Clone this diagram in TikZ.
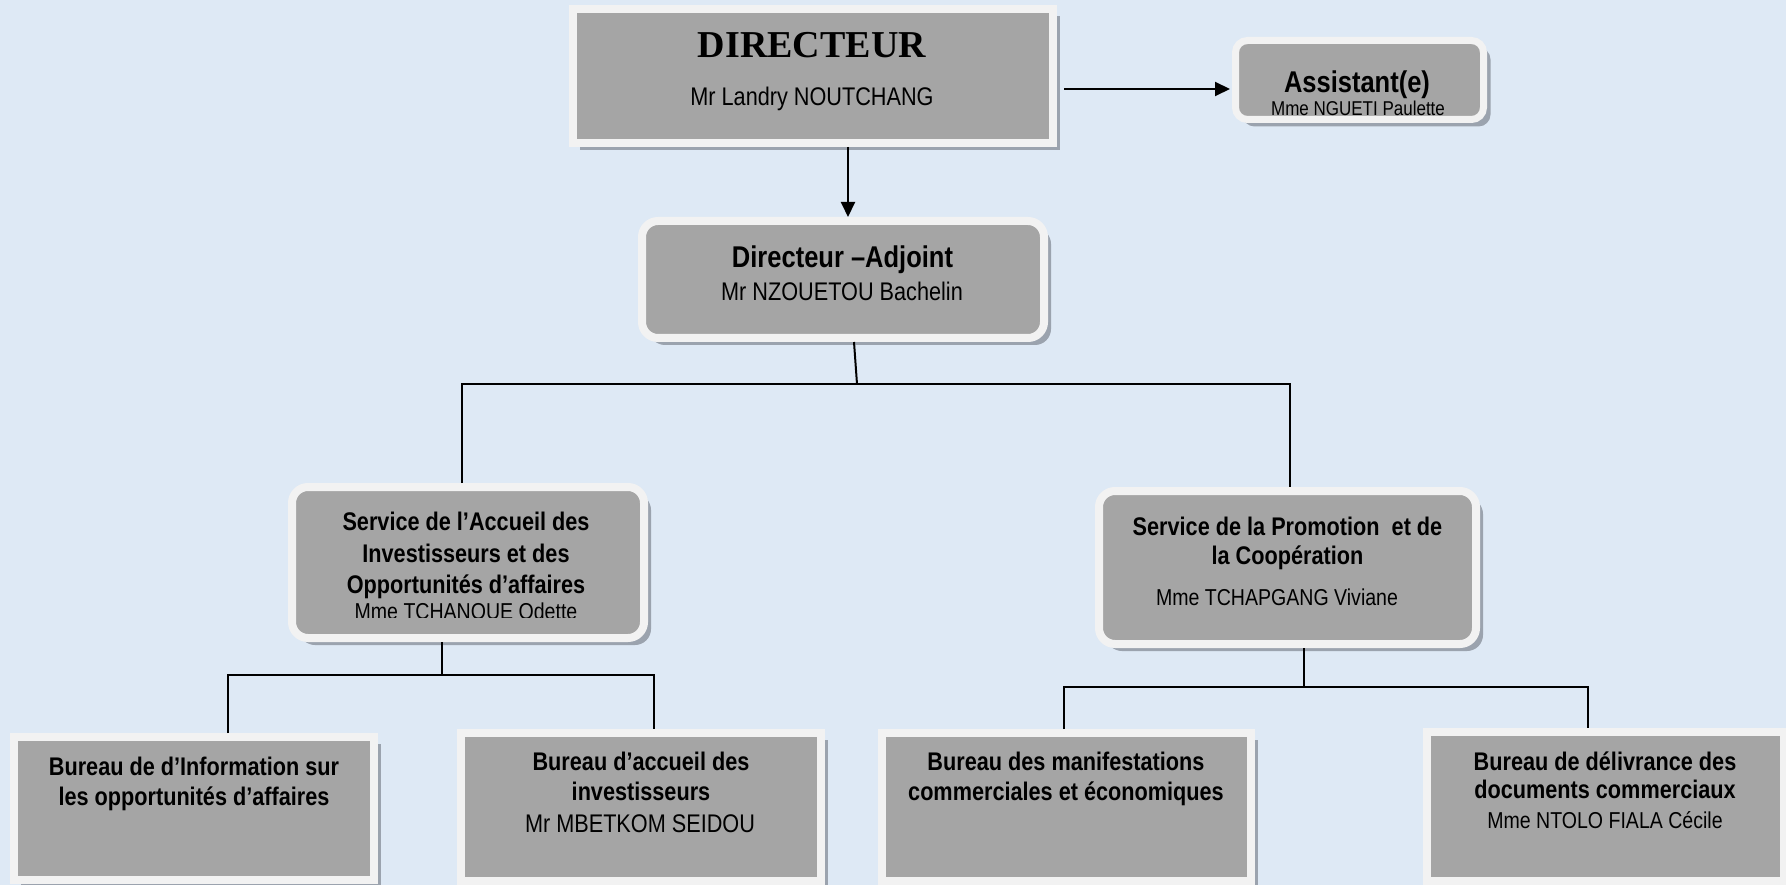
\documentclass[tikz,border=0pt]{standalone}
\usepackage{fontspec}
\newfontfamily\nar[FakeStretch=0.85]{Liberation Sans}
\newfontfamily\tms{Liberation Serif}
\usetikzlibrary{arrows.meta,shadows}
\definecolor{bgc}{RGB}{222,233,245}
\definecolor{boxg}{RGB}{165,165,165}
\definecolor{boxw}{RGB}{242,242,242}
\definecolor{shd}{RGB}{155,163,174}
\begin{document}
\begin{tikzpicture}[x=1pt,y=-1pt,
 box/.style={fill=boxg, draw=boxw, line width=8pt, inner sep=0pt,
   drop shadow={shadow xshift=7pt, shadow yshift=-7pt, fill=shd, opacity=1}},
 rbox/.style={box, rounded corners=16pt},
 conn/.style={line width=2pt, draw=black},
 arr/.style={conn, -{Triangle[length=15pt,width=14pt]}},
 t/.style={anchor=base, inner sep=0pt, text=black},
 bd/.style={font=\nar\bfseries\fontsize{25.5}{30}\selectfont},
 rg/.style={font=\nar\fontsize{25.5}{30}\selectfont},
 sm/.style={font=\nar\fontsize{23}{27}\selectfont},
]
\useasboundingbox (0,0) rectangle (1786,885);
\fill[bgc] (0,0) rectangle (1786,885);

% boxes
\node[box, minimum width=480pt, minimum height=134pt] (director) at (813,76) {};
\node[rbox, line width=7pt, rounded corners=12pt, minimum width=248pt, minimum height=79pt] (assistant) at (1359.5,80) {};
\node[rbox, minimum width=402pt, minimum height=117pt] (adjoint) at (843,279.5) {};
\node[rbox, minimum width=352pt, minimum height=151pt] (svc1) at (468,562.5) {};
\node[rbox, minimum width=377pt, minimum height=153pt] (svc2) at (1287.5,567.5) {};
\node[box, minimum width=360pt, minimum height=143pt] (bur1) at (194,808.5) {};
\node[box, minimum width=360pt, minimum height=148pt] (bur2) at (641,807) {};
\node[box, minimum width=369pt, minimum height=148pt] (bur3) at (1066.5,807) {};
\node[box, minimum width=357pt, minimum height=149pt] (bur4) at (1605.5,806.5) {};

% texts
\node[t, font=\tms\bfseries\fontsize{38}{44}\selectfont] (dir-1) at (812,58) {DIRECTEUR};
\node[t, rg] (dir-2) at (812,106) {Mr Landry NOUTCHANG};
\node[t, font=\nar\bfseries\fontsize{30}{36}\selectfont] (ass-1) at (1357,93) {Assistant(e)};
\node[t, font=\nar\fontsize{20}{24}\selectfont] (ass-2) at (1358,115.5) {Mme NGUETI Paulette};
\node[t, font=\nar\bfseries\fontsize{30}{36}\selectfont] (adj-1) at (842.5,268) {Directeur –Adjoint};
\node[t, rg] (adj-2) at (842,301) {Mr NZOUETOU Bachelin};

\node[t, bd] (s1-1) at (466,530) {Service de l’Accueil des};
\node[t, bd] (s1-2) at (466,562) {Investisseurs et des};
\node[t, bd] (s1-3) at (466,593) {Opportunités d’affaires};
\begin{scope}
\clip (296,600) rectangle (640,617);
\node[t, sm] (s1-4) at (466,619) {Mme TCHANQUE Odette};
\end{scope}

\node[t, bd] (s2-1) at (1287.5,535) {Service de la Promotion \ et de};
\node[t, bd] (s2-2) at (1287.5,564) {la Coopération};
\node[t, sm] (s2-3) at (1277,605) {Mme TCHAPGANG Viviane};

\node[t, bd] (b1-1) at (194,775) {Bureau de d’Information sur};
\node[t, bd] (b1-2) at (194,805) {les opportunités d’affaires};
\node[t, bd] (b2-1) at (641,770) {Bureau d’accueil des};
\node[t, bd] (b2-2) at (641,800) {investisseurs};
\node[t, rg] (b2-3) at (640,832) {Mr MBETKOM SEIDOU};
\node[t, bd] (b3-1) at (1066,770) {Bureau des manifestations};
\node[t, bd] (b3-2) at (1066,800) {commerciales et économiques};
\node[t, bd] (b4-1) at (1605,770) {Bureau de délivrance des};
\node[t, bd] (b4-2) at (1605,798) {documents commerciaux};
\node[t, sm] (b4-3) at (1605,828) {Mme NTOLO FIALA Cécile};

% connectors
\draw[arr] ([xshift=35pt]director.south) -- ([xshift=35pt]director.south |- adjoint.north);
\draw[arr, shorten >=9pt] ([shift={(7,13)}]director.east) -- ([shift={(7,13)}]director.east -| assistant.west);

\coordinate (busA) at (857,384);
\coordinate (busAL) at (462,384);
\coordinate (busAR) at (1290,384);
\draw[conn] ([xshift=11pt]adjoint.south) -- (busA);
\draw[conn] (svc1.north -| busAL) -- (busAL) -- (busAR) -- (svc2.north -| busAR);

\coordinate (busBL) at (228,675);
\coordinate (busBR) at (654,675);
\draw[conn] ([xshift=-26pt]svc1.south) -- ([xshift=-26pt]svc1.south |- busBL);
\draw[conn] (bur1.north -| busBL) -- (busBL) -- (busBR) -- (bur2.north -| busBR);

\coordinate (busCL) at (1064,687);
\coordinate (busCR) at (1588,687);
\draw[conn] ([xshift=16.5pt]svc2.south) -- ([xshift=16.5pt]svc2.south |- busCL);
\draw[conn] (bur3.north -| busCL) -- (busCL) -- (busCR) -- (bur4.north -| busCR);
\end{tikzpicture}
\end{document}
